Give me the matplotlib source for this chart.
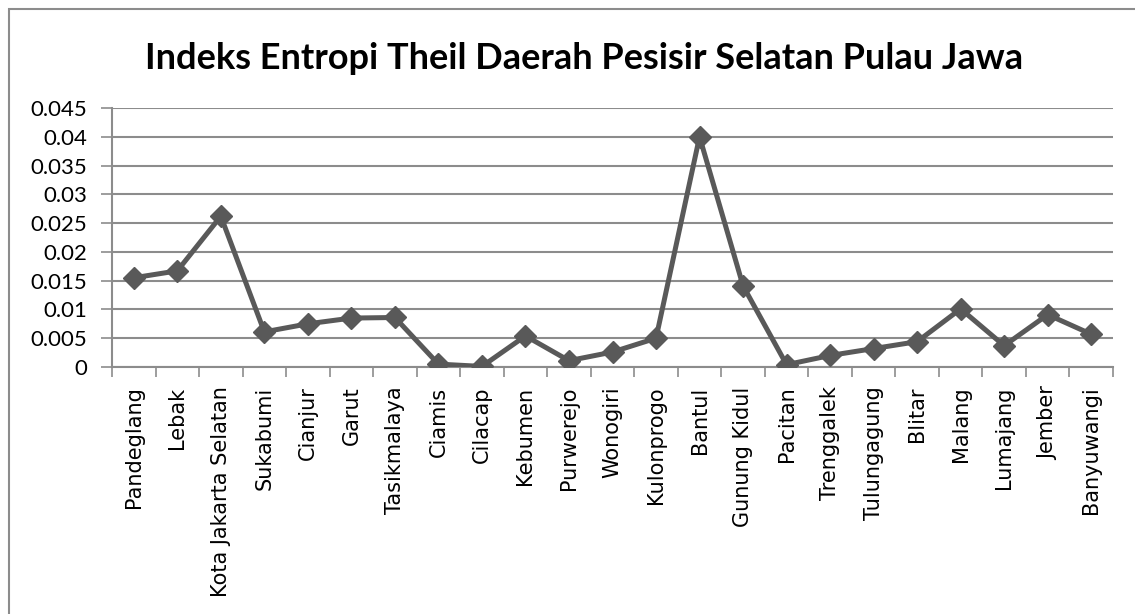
import numpy as np
import matplotlib.pyplot as plt
import matplotlib.patches as patches
from matplotlib.ticker import FixedLocator, NullFormatter

daerah = ['Pandeglang', 'Lebak', 'Kota Jakarta Selatan', 'Sukabumi', 'Cianjur',
          'Garut', 'Tasikmalaya', 'Ciamis', 'Cilacap', 'Kebumen', 'Purwerejo',
          'Wonogiri', 'Kulonprogo', 'Bantul', 'Gunung Kidul', 'Pacitan',
          'Trenggalek', 'Tulungagung', 'Blitar', 'Malang', 'Lumajang',
          'Jember', 'Banyuwangi']
theil = [0.0155, 0.0167, 0.0262, 0.0061, 0.0075, 0.0085, 0.0086, 0.0005,
         0.0001, 0.0054, 0.0011, 0.0026, 0.0050, 0.0400, 0.0141, 0.0004,
         0.0020, 0.0032, 0.0044, 0.0101, 0.0037, 0.0091, 0.0057]
yticks = [0, 0.005, 0.01, 0.015, 0.02, 0.025, 0.03, 0.035, 0.04, 0.045]
ytick_labels = ['0', '0.005', '0.01', '0.015', '0.02', '0.025', '0.03',
                '0.035', '0.04', '0.045']

fig = plt.figure(figsize=(11.35, 6.14), dpi=100)
ax = fig.add_axes([0.0987, 0.4023, 0.8819, 0.4218])

# chart border (cut off at right and bottom)
fig.add_artist(patches.Rectangle((9 / 1135, -0.1), 1.2, 1 - 9 / 614 + 0.1,
                                 transform=fig.transFigure, fill=False,
                                 edgecolor='#8c8c8c', linewidth=1.5))

x = np.arange(len(daerah))
ax.plot(x, theil, color='#595959', linewidth=3.6, marker='D',
        markersize=11, zorder=3)

ax.set_xlim(-0.5, len(daerah) - 0.5)
ax.set_ylim(0, 0.045)
ax.set_yticks(yticks)
ax.set_yticklabels(ytick_labels, fontsize=16, fontfamily='Lato')
ax.yaxis.grid(True, color='#8c8c8c', linewidth=1.5)
ax.set_axisbelow(True)

ax.xaxis.set_major_locator(FixedLocator(np.arange(-0.5, len(daerah), 1.0)))
ax.xaxis.set_major_formatter(NullFormatter())
ax.set_xticks(x, minor=True)
ax.set_xticklabels(daerah, minor=True, rotation=90, fontsize=15,
                   fontfamily='DejaVu Sans')
ax.tick_params(axis='x', which='minor', length=0, pad=14)
ax.tick_params(axis='x', which='major', length=7, color='#8c8c8c', width=1.2)
ax.tick_params(axis='y', length=8, color='#8c8c8c', width=1.2, pad=10)

for side in ['top', 'right']:
    ax.spines[side].set_visible(False)
for side in ['left', 'bottom']:
    ax.spines[side].set_color('#8c8c8c')
    ax.spines[side].set_linewidth(1.5)

fig.text(0.515, 0.905, 'Indeks Entropi Theil Daerah Pesisir Selatan Pulau Jawa',
         ha='center', va='center', fontsize=26, fontweight='bold',
         fontfamily='Lato')

fig.savefig('out.png', dpi=100)
